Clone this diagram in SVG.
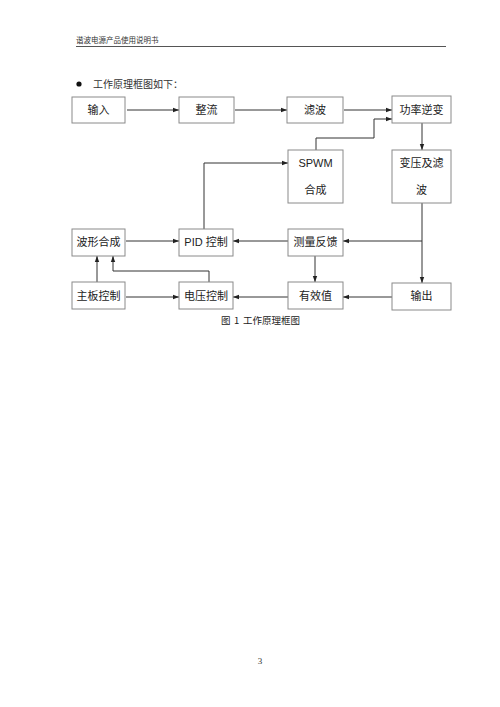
<svg xmlns="http://www.w3.org/2000/svg" width="500" height="707" viewBox="0 0 500 707">
<defs>
<marker id="ah" markerWidth="6" markerHeight="6" refX="6" refY="3" orient="auto" markerUnits="userSpaceOnUse">
<path d="M0,0.8 L6,3 L0,5.2 Z" fill="#222"/>
</marker>
<style>
.box{fill:#fff;stroke:#8a8a8a;stroke-width:1}
.t{font-family:"Liberation Serif","Noto Sans CJK SC",serif;font-size:11px;fill:#222;text-anchor:middle}
.s{font-family:"Liberation Sans","Noto Sans CJK SC",sans-serif;font-size:11px;fill:#222;text-anchor:middle}
.c{fill:none;stroke:#333;stroke-width:1}
.a{marker-end:url(#ah)}
</style>
</defs>
<rect width="500" height="707" fill="#fff"/>
<g id="header">
<text x="76" y="43" font-family="'Noto Sans CJK SC',sans-serif" font-size="7.5" fill="#333">谐波电源产品使用说明书</text>
<line x1="76" y1="46.5" x2="446" y2="46.5" stroke="#555" stroke-width="1"/>
</g>
<g id="intro">
<circle cx="79" cy="84" r="2.6" fill="#111"/>
<text x="93" y="88" font-family="'Noto Sans CJK SC',sans-serif" font-size="10" fill="#333">工作原理框图如下：</text>
</g>
<g id="connectors">
<line class="c a" x1="127" y1="110" x2="179" y2="110"/>
<line class="c a" x1="235" y1="110" x2="287" y2="110"/>
<line class="c a" x1="344" y1="110" x2="392" y2="110"/>
<polyline class="c a" points="316,150 316,138 374,138 374,119 392,119"/>
<line class="c a" x1="422" y1="123" x2="422" y2="150"/>
<polyline class="c a" points="204,229 204,163 288,163"/>
<line class="c a" x1="422" y1="203" x2="422" y2="283"/>
<line class="c a" x1="422" y1="241" x2="343" y2="241"/>
<line class="c a" x1="126" y1="241" x2="179" y2="241"/>
<line class="c a" x1="288" y1="241" x2="233" y2="241"/>
<line class="c a" x1="315" y1="256" x2="315" y2="282"/>
<line class="c a" x1="392" y1="297" x2="343" y2="297"/>
<line class="c a" x1="288" y1="297" x2="233" y2="297"/>
<line class="c a" x1="126" y1="297" x2="179" y2="297"/>
<line class="c a" x1="97" y1="282" x2="97" y2="256"/>
<polyline class="c a" points="209,282 209,271 113,271 113,256"/>
</g>
<g id="n_input"><rect class="box" x="72" y="97" width="53" height="26"/><text class="t" x="98.5" y="114">输入</text></g>
<g id="n_rectify"><rect class="box" x="179" y="97" width="55" height="26"/><text class="t" x="206.5" y="114">整流</text></g>
<g id="n_filter"><rect class="box" x="287" y="97" width="56" height="26"/><text class="t" x="315" y="114">滤波</text></g>
<g id="n_inverter"><rect class="box" x="392" y="96" width="59" height="27"/><text class="t" x="421.5" y="114">功率逆变</text></g>
<g id="n_spwm"><rect class="box" x="288" y="150" width="55" height="53"/><text class="s" x="315.5" y="167">SPWM</text><text class="t" x="315.5" y="194">合成</text></g>
<g id="n_transformer"><rect class="box" x="392" y="150" width="59" height="53"/><text class="t" x="421.5" y="167">变压及滤</text><text class="t" x="421.5" y="194">波</text></g>
<g id="n_waveform"><rect class="box" x="72" y="229" width="53" height="27"/><text class="t" x="98.5" y="246">波形合成</text></g>
<g id="n_pid"><rect class="box" x="179" y="229" width="54" height="27"/><text class="s" x="206" y="246">PID 控制</text></g>
<g id="n_feedback"><rect class="box" x="288" y="229" width="55" height="27"/><text class="t" x="315.5" y="246">测量反馈</text></g>
<g id="n_mainboard"><rect class="box" x="72" y="282" width="53" height="27"/><text class="t" x="98.5" y="300">主板控制</text></g>
<g id="n_voltage"><rect class="box" x="179" y="282" width="54" height="27"/><text class="t" x="206" y="300">电压控制</text></g>
<g id="n_rms"><rect class="box" x="288" y="282" width="55" height="27"/><text class="t" x="315.5" y="300">有效值</text></g>
<g id="n_output"><rect class="box" x="392" y="283" width="59" height="27"/><text class="t" x="421.5" y="300">输出</text></g>
<g id="caption">
<text y="324" font-family="'Noto Sans CJK SC',sans-serif" font-size="9.5" fill="#222"><tspan x="221">图</tspan><tspan x="234">1</tspan><tspan x="243">工作原理框图</tspan></text>
</g>
<g id="page">
<text x="260" y="664" font-family="'Liberation Serif',serif" font-size="9" fill="#333" text-anchor="middle">3</text>
</g>
</svg>
